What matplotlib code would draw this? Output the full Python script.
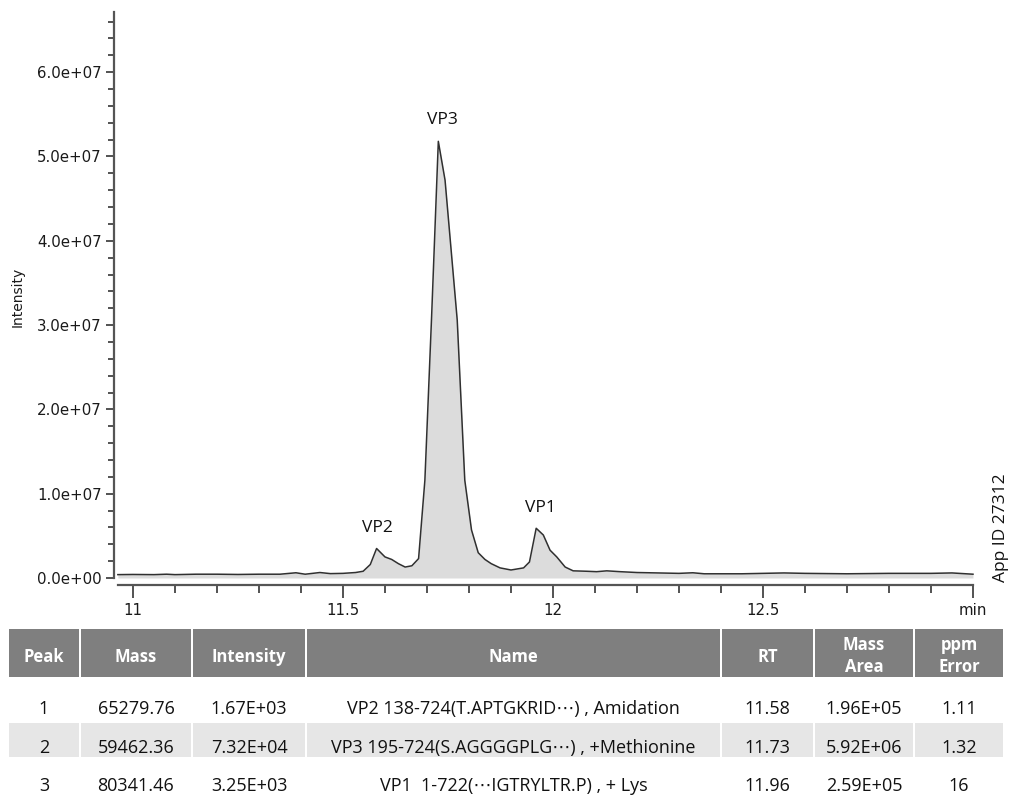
import matplotlib
matplotlib.use("Agg")
import matplotlib.pyplot as plt
from matplotlib.patches import Rectangle
from matplotlib.ticker import MultipleLocator, FuncFormatter

# Données du chromatogramme (temps en min, intensité en unités de 1e6)
temps = [10.964, 11.00, 11.05, 11.08, 11.10, 11.15, 11.20, 11.25, 11.30, 11.35,
         11.388, 11.41, 11.445, 11.47, 11.50, 11.53, 11.548, 11.565, 11.580, 11.600,
         11.616, 11.632, 11.648, 11.664, 11.680, 11.695, 11.711, 11.727, 11.743, 11.772,
         11.790, 11.806, 11.822, 11.838, 11.853, 11.874, 11.900, 11.930, 11.944, 11.960,
         11.977, 11.993, 12.009, 12.029, 12.048, 12.080, 12.104, 12.128, 12.160, 12.200,
         12.250, 12.300, 12.333, 12.360, 12.450, 12.550, 12.600, 12.700, 12.800, 12.900,
         12.950, 13.000]
intensite = [0.40, 0.42, 0.40, 0.45, 0.40, 0.45, 0.45, 0.42, 0.45, 0.45,
             0.62, 0.45, 0.65, 0.52, 0.55, 0.65, 0.80, 1.60, 3.50, 2.50,
             2.20, 1.70, 1.30, 1.45, 2.30, 11.6, 31.0, 51.8, 47.2, 30.6,
             11.6, 5.7, 3.0, 2.2, 1.7, 1.2, 0.95, 1.2, 1.9, 5.9,
             5.1, 3.3, 2.5, 1.3, 0.85, 0.80, 0.75, 0.85, 0.75, 0.65,
             0.60, 0.55, 0.62, 0.50, 0.50, 0.60, 0.55, 0.50, 0.55, 0.55,
             0.60, 0.45]
intensite = [v * 1e6 for v in intensite]

# Étiquettes des pics (temps, intensité)
pics_noms = ["VP2", "VP3", "VP1"]
pics_x = [11.581, 11.736, 11.969]
pics_y = [5.9e6, 54.3e6, 8.3e6]

# Tableau
entetes = ["Peak", "Mass", "Intensity", "Name", "RT", "Mass\nArea", "ppm\nError"]
col_peak = ["1", "2", "3"]
col_mass = ["65279.76", "59462.36", "80341.46"]
col_intens = ["1.67E+03", "7.32E+04", "3.25E+03"]
col_nom = ["VP2 138-724(T.APTGKRID\u22ef) , Amidation",
           "VP3 195-724(S.AGGGGPLG\u22ef) , +Methionine",
           "VP1  1-722(\u22efIGTRYLTR.P) , + Lys"]
col_rt = ["11.58", "11.73", "11.96"]
col_area = ["1.96E+05", "5.92E+06", "2.59E+05"]
col_ppm = ["1.11", "1.32", "16"]

W, H = 1014, 797
fig = plt.figure(figsize=(W / 100, H / 100), dpi=100)

# CHROMATOGRAMME
ax = fig.add_axes([114 / W, 1 - 578 / H, (980 - 114) / W, (578 - 12) / H])
ax.fill_between(temps, intensite, 0, color="#dcdcdc", lw=0)
ax.plot(temps, intensite, color="#303030", lw=1.1)
ax.set_xlim(10.9548, 13.0167)
ax.set_ylim(0, 6.714e7)

for s in ["top", "right"]:
    ax.spines[s].set_visible(False)
ax.spines["left"].set_color("#555555")
ax.spines["left"].set_linewidth(1.6)
ax.spines["bottom"].set_color("#555555")
ax.spines["bottom"].set_linewidth(1.6)
ax.spines["bottom"].set_position(("outward", 5))
ax.spines["bottom"].set_bounds(10.964, 13.0)

ax.set_yticks([0, 1e7, 2e7, 3e7, 4e7, 5e7, 6e7])
ax.yaxis.set_major_formatter(FuncFormatter(lambda v, p: f"{v:.1e}"))
ax.yaxis.set_minor_locator(MultipleLocator(2e6))
ax.set_xticks([11, 11.5, 12, 12.5, 13])
ax.set_xticklabels(["11", "11.5", "12", "12.5", "min"])
ax.xaxis.set_minor_locator(MultipleLocator(0.1))
ax.tick_params(axis="both", which="both", color="#444444", width=1.3,
               labelsize=10.8, labelcolor="#1a1a1a")
ax.tick_params(axis="y", which="major", length=6, pad=3)
ax.tick_params(axis="y", which="minor", length=4)
ax.tick_params(axis="x", which="major", length=9, pad=4)
ax.tick_params(axis="x", which="minor", length=6)

for nom, x, y in zip(pics_noms, pics_x, pics_y):
    ax.text(x, y, nom, ha="center", va="center", fontsize=12.5,
            family="Open Sans", color="#111111")

fig.text(18 / W, 1 - 297 / H, "Intensity", rotation=90, ha="center", va="center",
         fontsize=10, color="#1a1a1a")
fig.text(1001 / W, 1 - 528 / H, "App ID 27312", rotation=90, ha="center", va="center",
         fontsize=12.5, family="Open Sans", color="#111111")

# TABLEAU
tax = fig.add_axes([0, 0, 1, 1])
tax.set_xlim(0, W)
tax.set_ylim(H, 0)
tax.axis("off")
tax.patch.set_alpha(0)

bords = [8, 80, 192, 306, 721, 814, 914, 1004]
lignes = list(zip(col_peak, col_mass, col_intens, col_nom, col_rt, col_area, col_ppm))
y_lignes = [709, 748, 786]

for i, titre in enumerate(entetes):
    x0, x1 = bords[i], bords[i + 1]
    tax.add_patch(Rectangle((x0 + 1, 629), x1 - x0 - 2, 48, facecolor="#7f7f7f", lw=0))
    tax.text((x0 + x1) / 2, 656 if "\n" in titre else 657, titre, ha="center", va="center",
             fontsize=12, fontweight="bold", family="Open Sans", color="white",
             linespacing=1.35)

for j, (ligne, yc) in enumerate(zip(lignes, y_lignes)):
    for i, val in enumerate(ligne):
        x0, x1 = bords[i], bords[i + 1]
        if j == 1:
            tax.add_patch(Rectangle((x0 + 1, 723), x1 - x0 - 2, 34, facecolor="#e6e6e6", lw=0))
        tax.text((x0 + x1) / 2, yc, val, ha="center", va="center", fontsize=13,
                 family=["Open Sans", "DejaVu Sans"], color="#111111")

fig.savefig("out.png", dpi=100)
